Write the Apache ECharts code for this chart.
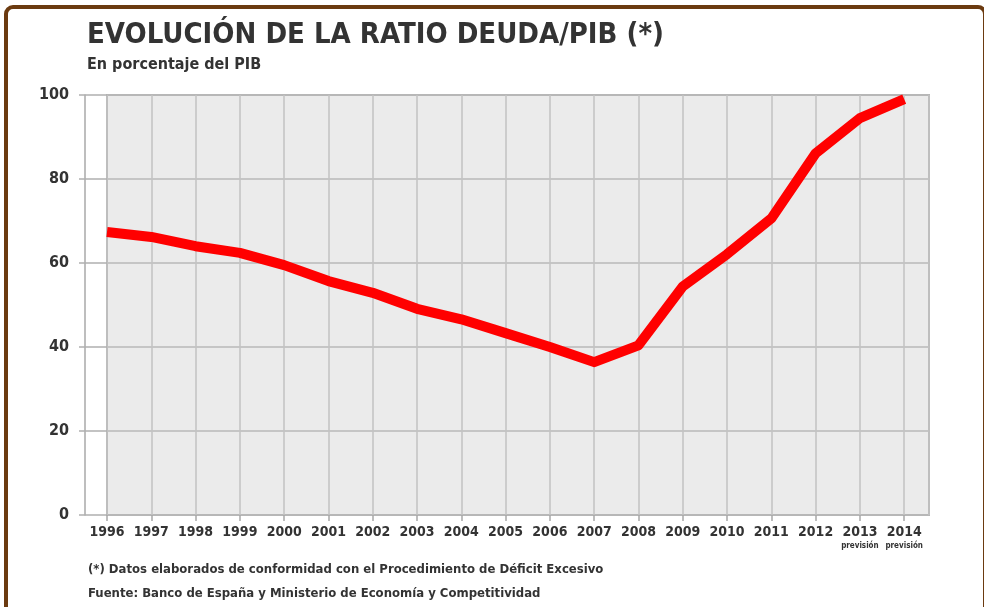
<!DOCTYPE html>
<html>
<head>
<meta charset="utf-8">
<script src="https://cdn.jsdelivr.net/npm/echarts@6/dist/echarts.min.js"></script>
<style>
  html, body { margin: 0; padding: 0; background: #fff; }
  #chart { width: 984px; height: 607px; }
</style>
</head>
<body>
<div id="chart"></div>
<script>
// años y ratio deuda/PIB (%)
const years = [1996, 1997, 1998, 1999, 2000, 2001, 2002, 2003, 2004, 2005, 2006, 2007, 2008, 2009, 2010, 2011, 2012, 2013, 2014];
const ratio = [67.4, 66.2, 64.0, 62.4, 59.5, 55.7, 52.9, 49.1, 46.6, 43.3, 40.0, 36.4, 40.4, 54.4, 62.1, 70.6, 86.1, 94.5, 99.0];
const forecastYears = [2013, 2014];
const yTicks = [0, 20, 40, 60, 80, 100];

const FONT = "'Liberation Sans Narrow', 'DejaVu Sans Condensed', sans-serif";
const TXT = "#333333";

let chart = echarts.init(document.getElementById("chart"));
chart.setOption({
  backgroundColor: "#ffffff",
  animation: false,
  graphic: [
    {
      type: "rect",
      shape: { x: 6, y: 7, width: 979, height: 620, r: 7 },
      style: { fill: "none", stroke: "#6b3a10", lineWidth: 4 },
      silent: true
    }
  ],
  title: [
    {
      text: "EVOLUCIÓN DE LA RATIO DEUDA/PIB (*)",
      subtext: "En porcentaje del PIB",
      left: 82,
      top: 16,
      itemGap: 7,
      textStyle: { fontFamily: FONT, fontWeight: "bold", fontSize: 29, color: TXT },
      subtextStyle: { fontFamily: FONT, fontWeight: "bold", fontSize: 16, color: TXT }
    },
    {
      text: "(*) Datos elaborados de conformidad con el Procedimiento de Déficit Excesivo",
      subtext: "Fuente: Banco de España y Ministerio de Economía y Competitividad",
      left: 83,
      top: 558,
      itemGap: 11,
      textStyle: { fontFamily: FONT, fontWeight: "bold", fontSize: 13, color: TXT },
      subtextStyle: { fontFamily: FONT, fontWeight: "bold", fontSize: 13, color: TXT }
    }
  ],
  grid: {
    show: true,
    left: 107,
    right: 55,
    top: 95,
    bottom: 92,
    backgroundColor: "#ebebeb",
    borderColor: "#b5b5b5",
    borderWidth: 2
  },
  xAxis: {
    type: "value",
    min: 1996,
    max: 2014.56,
    interval: 1,
    axisLine: { show: false },
    axisTick: { show: true, length: 6, lineStyle: { color: "#a8a8a8", width: 1.5 } },
    splitLine: { show: true, lineStyle: { color: "#c2c2c2", width: 1.5 } },
    axisLabel: {
      showMaxLabel: false,
      margin: 9,
      formatter: function (v) {
        if (forecastYears.indexOf(v) >= 0) return "{y|" + v + "}\n{p|previsión}";
        return "{y|" + v + "}";
      },
      rich: {
        y: { fontFamily: FONT, fontWeight: "bold", fontSize: 14, color: TXT, lineHeight: 17 },
        p: { fontFamily: FONT, fontWeight: "bold", fontSize: 8, color: TXT, lineHeight: 10 }
      },
      verticalAlign: "top"
    }
  },
  yAxis: [
    {
      type: "value",
      min: yTicks[0],
      max: yTicks[yTicks.length - 1],
      interval: 20,
      axisLine: { show: false },
      axisTick: { show: true, length: 28, lineStyle: { color: "#b0b0b0", width: 1.5 } },
      axisLabel: { show: false },
      splitLine: { show: true, lineStyle: { color: "#b8b8b8", width: 1.5 } }
    },
    {
      type: "value",
      position: "left",
      offset: 22,
      min: yTicks[0],
      max: yTicks[yTicks.length - 1],
      interval: 20,
      axisLine: { show: true, lineStyle: { color: "#a8a8a8", width: 1.5 } },
      axisTick: { show: false },
      splitLine: { show: false },
      axisLabel: {
        margin: 16,
        fontFamily: FONT,
        fontWeight: "bold",
        fontSize: 16,
        color: TXT
      }
    }
  ],
  series: [
    {
      type: "line",
      yAxisIndex: 0,
      data: years.map((y, i) => [y, ratio[i]]),
      showSymbol: false,
      symbol: "none",
      lineStyle: { color: "#ff0000", width: 10, cap: "butt", join: "round" },
      z: 5
    }
  ]
});
</script>
</body>
</html>
